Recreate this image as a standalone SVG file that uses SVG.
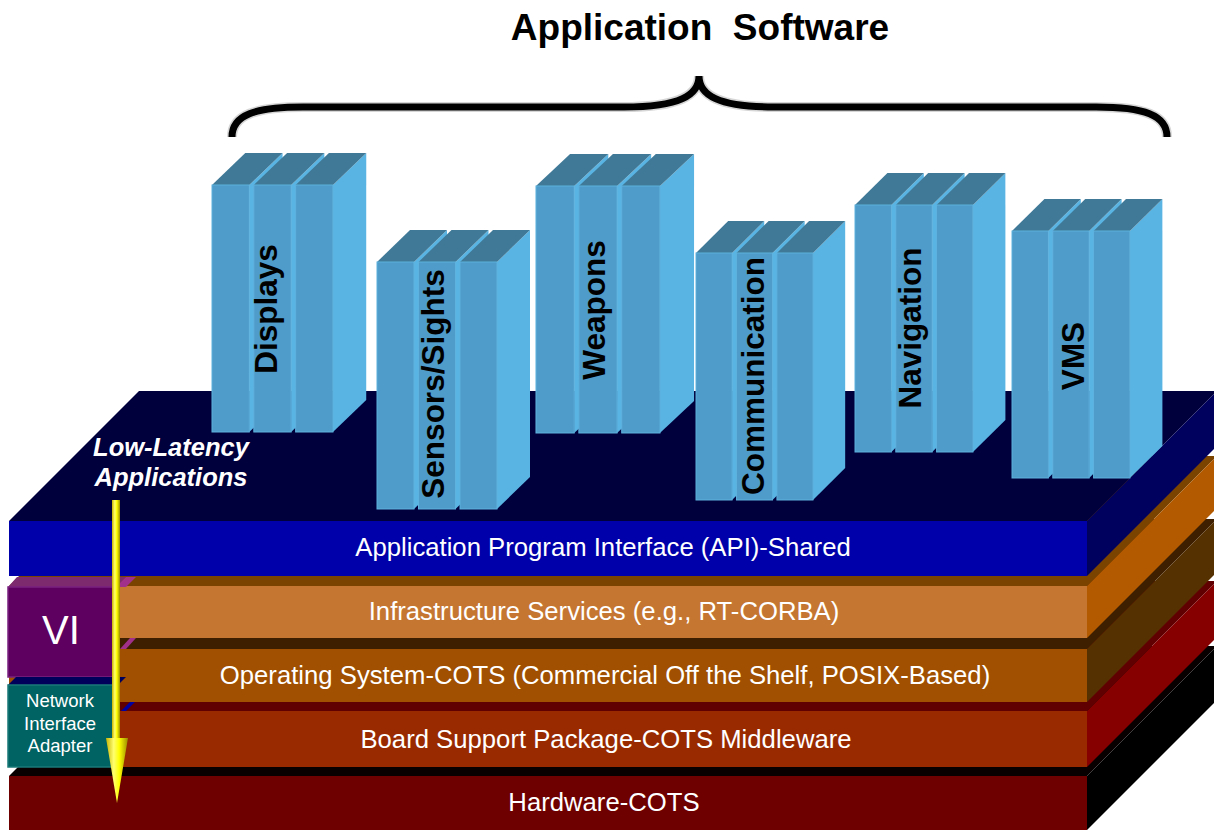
<svg xmlns="http://www.w3.org/2000/svg" width="1214" height="832" viewBox="0 0 1214 832">
<defs>
<style>
.lbl{font-family:"Liberation Sans",Arial,sans-serif;fill:#fff;font-size:25.7px;text-anchor:middle}
.vt{font-family:"Liberation Sans",Arial,sans-serif;font-weight:bold;font-size:31.5px;fill:#000;text-anchor:middle}
.cf{fill:#4F9BC9;stroke:#5EB2DE;stroke-width:1}
.ct{fill:#3F7997}
.cs{fill:#5AB4E3}
</style>
<linearGradient id="yg" x1="0" y1="0" x2="1" y2="0">
<stop offset="0" stop-color="#C8B400"/>
<stop offset="0.35" stop-color="#FFFF70"/>
<stop offset="0.6" stop-color="#FFFF00"/>
<stop offset="1" stop-color="#9A8A00"/>
</linearGradient>
<g id="col">
<polygon class="cs" points="37,0 70,-32 70,215 37,247"/>
<polygon class="ct" points="0,0 33,-32 70,-32 37,0"/>
<rect class="cf" x="0" y="0" width="37" height="247"/>
<polygon class="cs" points="78.5,0 111.5,-32 111.5,215 78.5,247"/>
<polygon class="ct" points="41.5,0 74.5,-32 111.5,-32 78.5,0"/>
<rect class="cf" x="41.5" y="0" width="37" height="247"/>
<polygon class="cs" points="120,0 153,-32 153,215 120,247"/>
<polygon class="ct" points="83,0 116,-32 153,-32 120,0"/>
<rect class="cf" x="83" y="0" width="37" height="247"/>
</g>
</defs>
<rect width="1214" height="832" fill="#fff"/>

<g id="title">
<text x="700" y="40" font-family="Liberation Sans, Arial, sans-serif" font-weight="bold" font-size="37" text-anchor="middle" fill="#000">Application&#160; Software</text>
</g>
<g id="brace" fill="none">
<path d="M232,137 C232,115 255,107 303,107 L624,107 C680,107 699,95 699,76 C699,95 718,107 774,107 L1096,107 C1144,107 1167,115 1167,137" stroke="#999" stroke-opacity="0.4" stroke-width="10"/>
<path d="M232,137 C232,115 255,107 303,107 L624,107 C680,107 699,95 699,76 C699,95 718,107 774,107 L1096,107 C1144,107 1167,115 1167,137" stroke="#000" stroke-width="7"/>
</g>

<g id="layer-hardware">
<polygon points="9,776 139,646 1217,646 1087,776" fill="#080000"/>
<polygon points="1087,776 1217,646 1217,700 1087,830" fill="#000"/>
<rect x="9" y="776" width="1078" height="54" fill="#6E0000"/>
<text class="lbl" x="604" y="811">Hardware-COTS</text>
</g>
<g id="layer-bsp">
<polygon points="9,711 139,581 1217,581 1087,711" fill="#600000"/>
<polygon points="1087,711 1217,581 1217,637 1087,767" fill="#860000"/>
<rect x="9" y="711" width="1078" height="56" fill="#992A00"/>
<text class="lbl" x="606" y="748">Board Support Package-COTS Middleware</text>
</g>
<g id="layer-os">
<polygon points="9,649 139,519 1217,519 1087,649" fill="#3E2000"/>
<polygon points="1087,649 1217,519 1217,572 1087,702" fill="#553000"/>
<rect x="9" y="649" width="1078" height="53" fill="#A05000"/>
<text class="lbl" x="605" y="684">Operating System-COTS (Commercial Off the Shelf, POSIX-Based)</text>
</g>
<g id="layer-infra">
<polygon points="9,586 139,456 1217,456 1087,586" fill="#7A4300"/>
<polygon points="1087,586 1217,456 1217,508 1087,638" fill="#B35A00"/>
<rect x="9" y="586" width="1078" height="52" fill="#C57630"/>
<text class="lbl" x="604" y="620">Infrastructure Services (e.g., RT-CORBA)</text>
</g>
<g id="layer-api">
<polygon points="9,521 139,391 1217,391 1087,521" fill="#00003C"/>
<polygon points="1087,521 1217,391 1217,446 1087,576" fill="#00005F"/>
<rect x="9" y="521" width="1078" height="55" fill="#0000AA"/>
<text class="lbl" x="603" y="556">Application Program Interface (API)-Shared</text>
</g>

<g id="vi">
<polygon points="8,587 17,577 126,577 117,587" fill="#7E2A6E"/>
<polygon points="116,587 126,577 136,577 126,587" fill="#A0308A"/>
<polygon points="120,649 130,638 136,638 126,649" fill="#A0308A"/>
<rect x="8" y="587" width="107" height="90" fill="#5E005F" stroke="#7A2080" stroke-width="1.5"/>
<text x="61" y="644" font-family="Liberation Sans, Arial, sans-serif" font-size="40" fill="#fff" text-anchor="middle">VI</text>
</g>
<g id="nia">
<polygon points="8,685 16,677 126,677 118,685" fill="#00005A"/>
<polygon points="121,711 130,702 135,702 126,711" fill="#0000A0"/>
<rect x="8" y="685" width="107" height="82" fill="#006363" stroke="#1A7A7A" stroke-width="1.5"/>
<g font-family="Liberation Sans, Arial, sans-serif" font-size="18.5" fill="#fff" text-anchor="middle">
<text x="60" y="707">Network</text>
<text x="60" y="730">Interface</text>
<text x="60" y="752">Adapter</text>
</g>
</g>

<g id="col-displays">
<use href="#col" transform="translate(212,185) scale(1.008,1)"/>
<text class="vt" transform="translate(266,309) rotate(-90)" y="11.3">Displays</text>
</g>
<g id="col-sensors">
<use href="#col" transform="translate(377,262)"/>
<text class="vt" transform="translate(433,384) rotate(-90)" y="11.3">Sensors/Sights</text>
</g>
<g id="col-weapons">
<use href="#col" transform="translate(536,186) scale(1.033,1)"/>
<text class="vt" transform="translate(594,310) rotate(-90)" y="11.3">Weapons</text>
</g>
<g id="col-communication">
<use href="#col" transform="translate(696,253) scale(0.975,1)"/>
<text class="vt" transform="translate(753,376) rotate(-90)" y="11.3">Communication</text>
</g>
<g id="col-navigation">
<use href="#col" transform="translate(855,205) scale(0.983,1)"/>
<text class="vt" transform="translate(910,328) rotate(-90)" y="11.3">Navigation</text>
</g>
<g id="col-vms">
<use href="#col" transform="translate(1012,231) scale(0.983,1)"/>
<text class="vt" transform="translate(1073,356) rotate(-90)" y="11.3">VMS</text>
</g>

<g id="low-latency">
<g font-family="Liberation Sans, Arial, sans-serif" font-weight="bold" font-style="italic" font-size="25.5" fill="#fff" text-anchor="middle">
<text x="171" y="456">Low-Latency</text>
<text x="171" y="486">Applications</text>
</g>
</g>

<g id="connectors">
<rect x="112" y="500" width="8" height="240" fill="url(#yg)"/>
<polygon points="106,738 128,738 117,803" fill="url(#yg)"/>
</g>
</svg>
